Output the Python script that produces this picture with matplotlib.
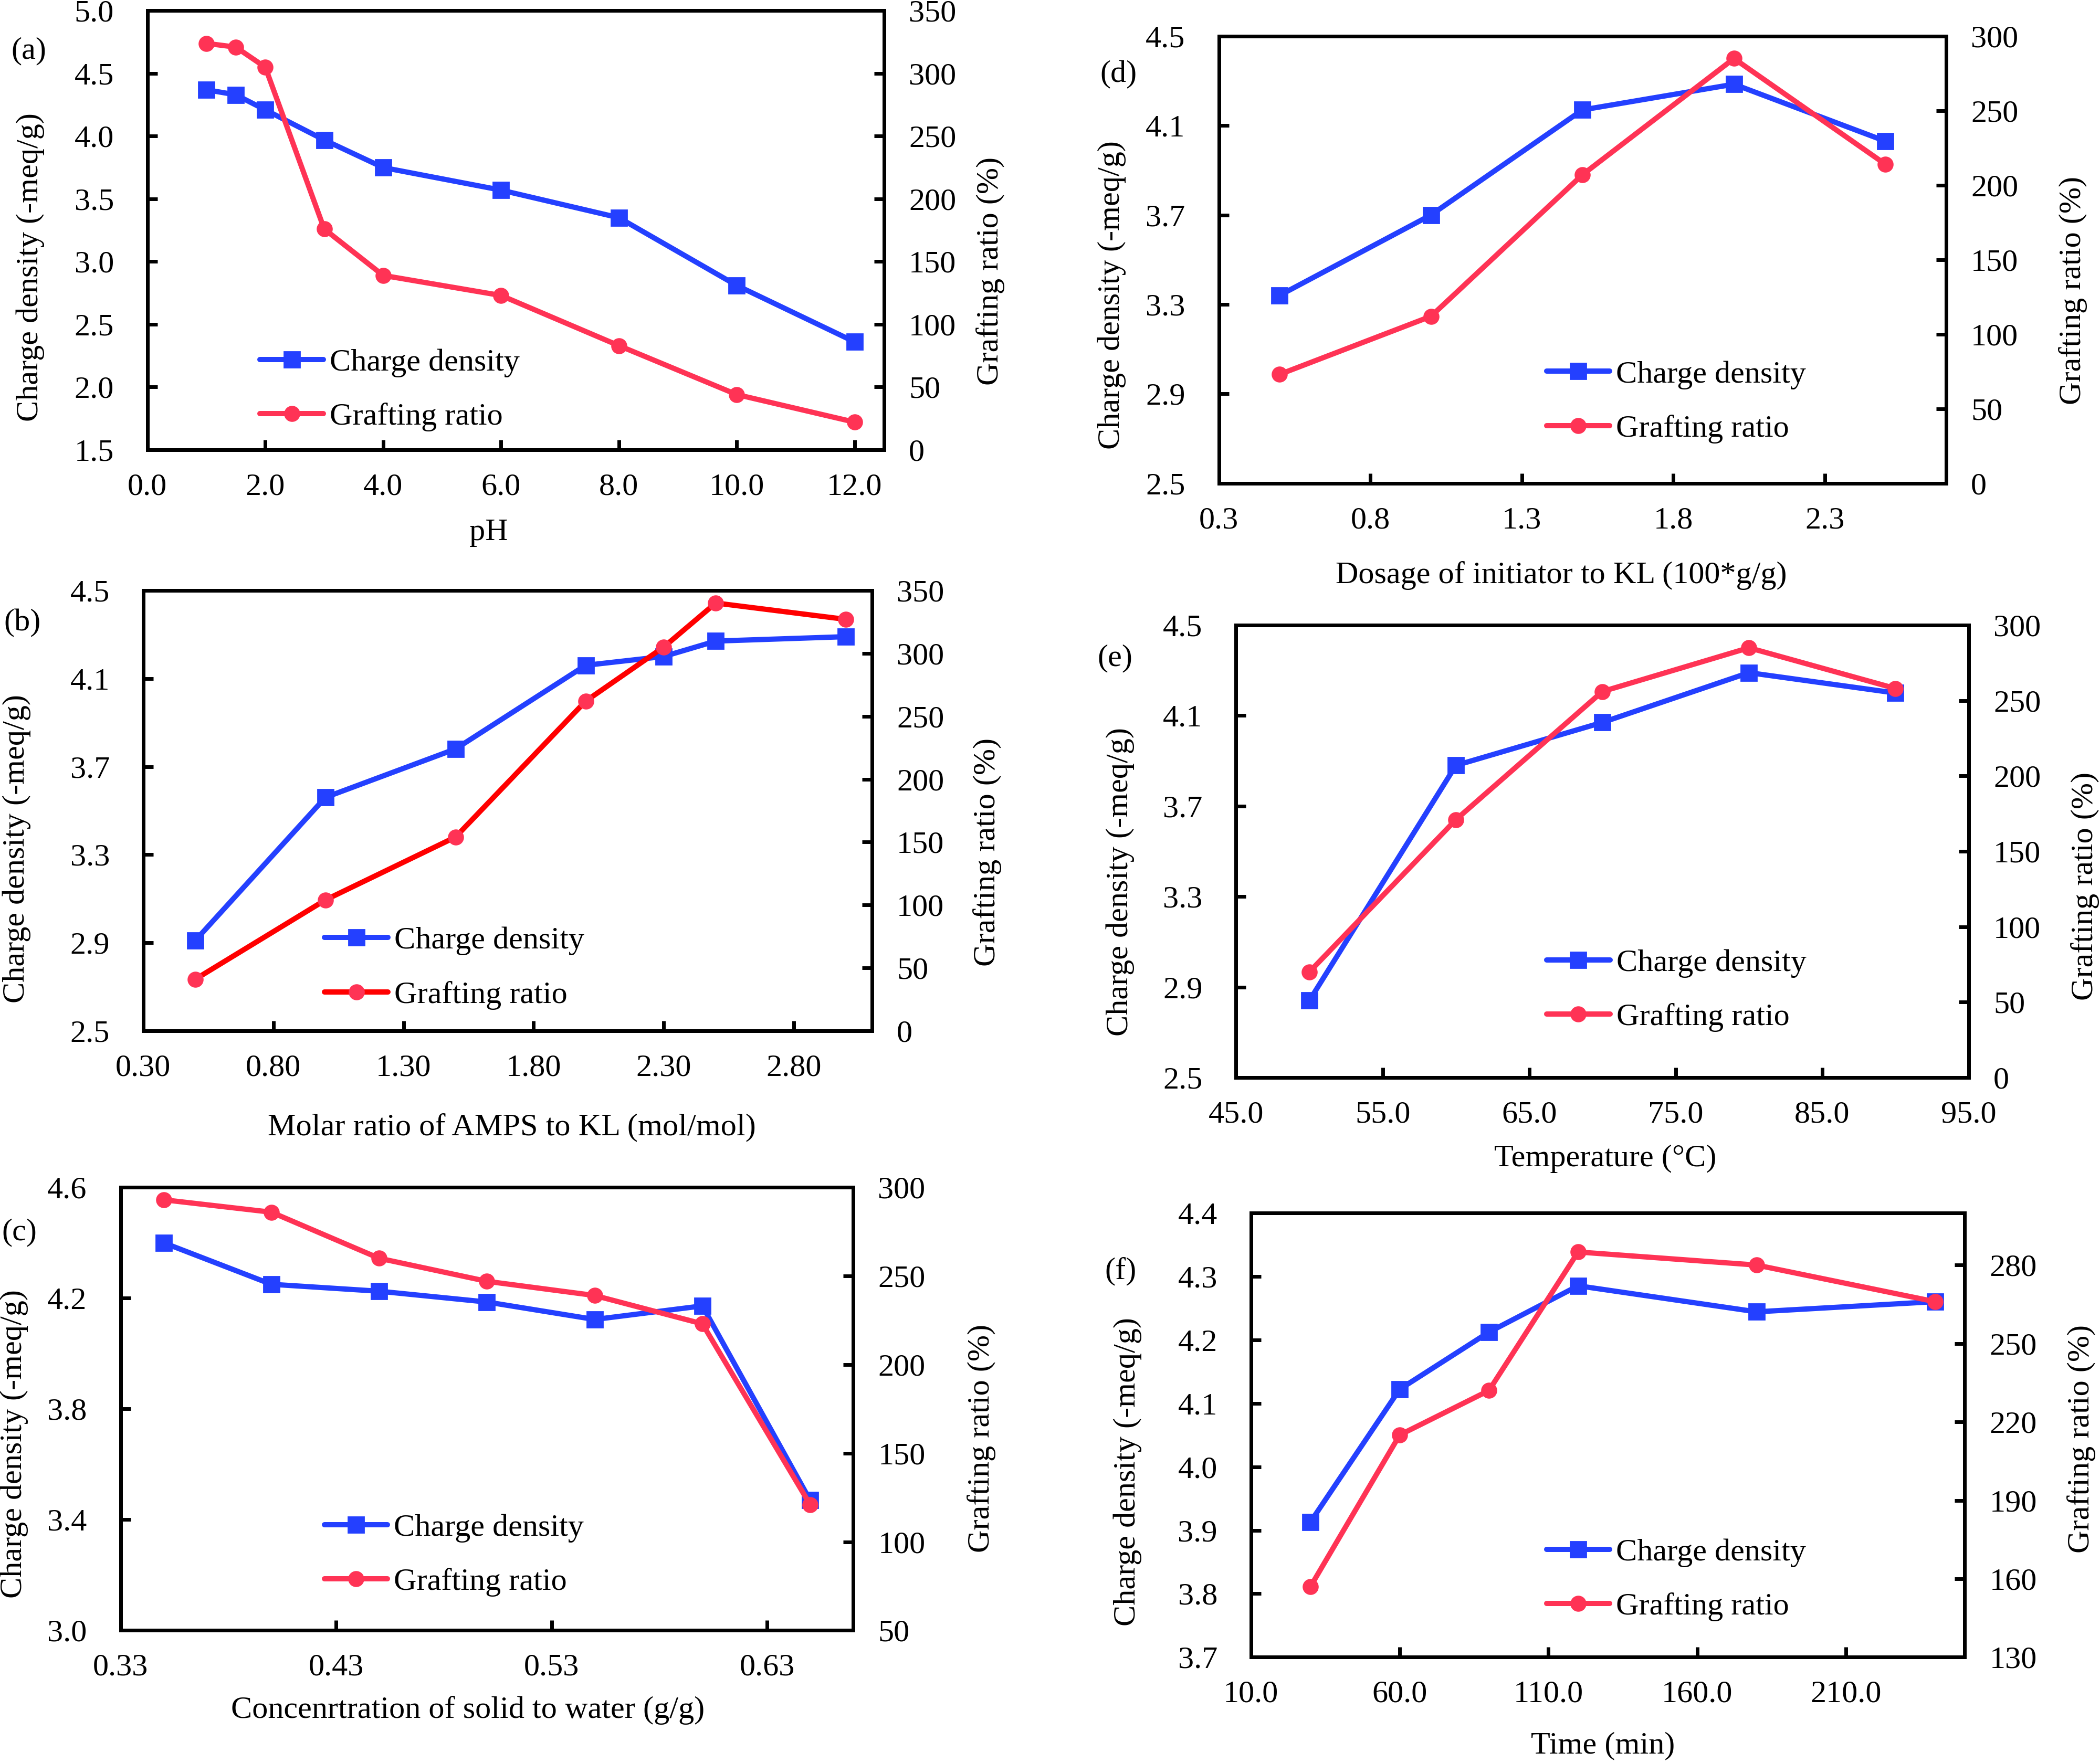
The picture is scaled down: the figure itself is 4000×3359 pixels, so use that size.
import matplotlib
matplotlib.use("Agg")
import matplotlib.pyplot as plt
from matplotlib.ticker import FormatStrFormatter

plt.rcParams['font.family'] = ['Liberation Serif', 'DejaVu Serif']

BLUE = '#2440ff'
RED = '#ff3355'
PURE_RED = '#ff0000'
FS = 21.7

# (a) effect of pH
ph = [1, 1.5, 2, 3, 4, 6, 8, 10, 12]
ph_charge = [4.37, 4.33, 4.21, 3.97, 3.75, 3.57, 3.35, 2.81, 2.36]
ph_graft = [324, 321, 305, 176, 139, 123, 83, 44, 22]
ph_xticks = [0, 2, 4, 6, 8, 10, 12]
ph_yticks = [1.5, 2.0, 2.5, 3.0, 3.5, 4.0, 4.5, 5.0]
ph_y2ticks = [0, 50, 100, 150, 200, 250, 300, 350]

# (b) molar ratio of AMPS to KL
molar = [0.5, 1.0, 1.5, 2.0, 2.3, 2.5, 3.0]
molar_charge = [2.91, 3.56, 3.78, 4.16, 4.20, 4.27, 4.29]
molar_graft = [41, 104, 154, 262, 305, 340, 327]
molar_xticks = [0.30, 0.80, 1.30, 1.80, 2.30, 2.80]
molar_yticks = [2.5, 2.9, 3.3, 3.7, 4.1, 4.5]
molar_y2ticks = [0, 50, 100, 150, 200, 250, 300, 350]

# (c) concentration of solid to water
conc = [0.35, 0.40, 0.45, 0.50, 0.55, 0.60, 0.65]
conc_charge = [4.40, 4.25, 4.225, 4.186, 4.123, 4.172, 3.47]
conc_graft = [293, 286, 260, 247, 239, 223, 121]
conc_xticks = [0.33, 0.43, 0.53, 0.63]
conc_yticks = [3.0, 3.4, 3.8, 4.2, 4.6]
conc_y2ticks = [50, 100, 150, 200, 250, 300]

# (d) dosage of initiator
dosage = [0.5, 1.0, 1.5, 2.0, 2.5]
dosage_charge = [3.34, 3.70, 4.17, 4.285, 4.03]
dosage_graft = [73, 112, 207, 285, 214]
dosage_xticks = [0.3, 0.8, 1.3, 1.8, 2.3]
dosage_yticks = [2.5, 2.9, 3.3, 3.7, 4.1, 4.5]
dosage_y2ticks = [0, 50, 100, 150, 200, 250, 300]

# (e) temperature
temp = [50, 60, 70, 80, 90]
temp_charge = [2.84, 3.88, 4.07, 4.29, 4.20]
temp_graft = [70, 171, 256, 285, 258]
temp_xticks = [45, 55, 65, 75, 85, 95]
temp_yticks = [2.5, 2.9, 3.3, 3.7, 4.1, 4.5]
temp_y2ticks = [0, 50, 100, 150, 200, 250, 300]

# (f) time
time_min = [30, 60, 90, 120, 180, 240]
time_charge = [3.913, 4.122, 4.212, 4.285, 4.244, 4.26]
time_graft = [157, 215, 232, 285, 280, 266]
time_xticks = [10, 60, 110, 160, 210]
time_yticks = [3.7, 3.8, 3.9, 4.0, 4.1, 4.2, 4.3, 4.4]
time_y2ticks = [130, 160, 190, 220, 250, 280]

fig = plt.figure(figsize=(20, 16.795), dpi=200)


def panel(rect, x, charge, graft, tag, xlabel, xlim, xticks, xfmt,
          ylim, yticks, y2lim, y2ticks, leg_xy, tag_xy, xlab_xy,
          ylab_xy, y2lab_xy, graft_line=RED):
    ax = fig.add_axes(rect)
    ax2 = ax.twinx()

    l1, = ax.plot(x, charge, color=BLUE, lw=3.6, marker='s', ms=11,
                  solid_capstyle='round', label='Charge density')
    l2, = ax2.plot(x, graft, color=graft_line, lw=3.6, marker='o', ms=10,
                   mfc=RED, mec=RED, solid_capstyle='round',
                   label='Grafting ratio')

    ax.set_xlim(xlim)
    ax.set_ylim(ylim)
    ax2.set_ylim(y2lim)
    ax.set_xticks(xticks)
    ax.set_yticks(yticks)
    ax2.set_yticks(y2ticks)
    ax.xaxis.set_major_formatter(FormatStrFormatter(xfmt))
    ax.yaxis.set_major_formatter(FormatStrFormatter('%.1f'))
    ax2.yaxis.set_major_formatter(FormatStrFormatter('%d'))

    for a in (ax, ax2):
        for s in a.spines.values():
            s.set_linewidth(2.5)
    ax.tick_params(direction='in', length=7, width=2.5, labelsize=FS)
    ax.tick_params(axis='y', pad=23)
    ax.tick_params(axis='x', pad=16)
    ax2.tick_params(direction='in', length=7, width=2.5, labelsize=FS, pad=17)

    ax2.legend(handles=[l1, l2], loc='center left', bbox_to_anchor=leg_xy,
               frameon=False, fontsize=FS, handlelength=2.0,
               handletextpad=0.2, borderpad=0, borderaxespad=0,
               labelspacing=0.8)

    ax.text(*tag_xy, tag, transform=ax.transAxes, ha='center', va='center',
            fontsize=FS)
    ax.text(*xlab_xy, xlabel, transform=ax.transAxes, ha='center',
            va='center', fontsize=FS)
    ax.text(*ylab_xy, 'Charge density (-meq/g)', transform=ax.transAxes,
            ha='center', va='center', rotation=90, fontsize=FS)
    ax.text(*y2lab_xy, 'Grafting ratio (%)', transform=ax.transAxes,
            ha='center', va='center', rotation=90, fontsize=FS)
    return ax, ax2


panel([0.0702, 0.7449, 0.3508, 0.2490], ph, ph_charge, ph_graft, '(a)', 'pH',
      (0, 12.5), ph_xticks, '%.1f', (1.5, 5.0), ph_yticks, (0, 350), ph_y2ticks,
      (0.153, 0.136), (-0.161, 0.908), (0.463, -0.189), (-0.159, 0.416),
      (1.144, 0.407))

panel([0.0682, 0.4153, 0.3470, 0.2498], molar, molar_charge, molar_graft, '(b)',
      'Molar ratio of AMPS to KL (mol/mol)',
      (0.3, 3.1), molar_xticks, '%.2f', (2.5, 4.5), molar_yticks, (0, 350),
      molar_y2ticks, (0.249, 0.1425), (-0.166, 0.926), (0.506, -0.219),
      (-0.174, 0.414), (1.158, 0.406), graft_line=PURE_RED)

panel([0.0574, 0.0752, 0.3489, 0.2513], conc, conc_charge, conc_graft, '(c)',
      'Concenrtration of solid to water (g/g)',
      (0.33, 0.67), conc_xticks, '%.2f', (3.0, 4.6), conc_yticks, (50, 300),
      conc_y2ticks, (0.278, 0.17), (-0.138, 0.8975), (0.474, -0.18),
      (-0.145, 0.421), (1.175, 0.434))

panel([0.5804, 0.7259, 0.3463, 0.2536], dosage, dosage_charge, dosage_graft,
      '(d)', 'Dosage of initiator to KL (100*g/g)',
      (0.3, 2.7), dosage_xticks, '%.1f', (2.5, 4.5), dosage_yticks, (0, 300),
      dosage_y2ticks, (0.4506, 0.182), (-0.138, 0.914), (0.471, -0.206),
      (-0.147, 0.421), (1.1745, 0.431))

panel([0.5886, 0.3888, 0.3489, 0.2566], temp, temp_charge, temp_graft, '(e)',
      'Temperature (°C)',
      (45, 95), temp_xticks, '%.1f', (2.5, 4.5), temp_yticks, (0, 300),
      temp_y2ticks, (0.424, 0.1926), (-0.165, 0.9265), (0.504, -0.1795),
      (-0.158, 0.433), (1.159, 0.4226))

panel([0.5957, 0.0600, 0.3399, 0.2521], time_min, time_charge, time_graft, '(f)',
      'Time (min)',
      (10, 250), time_xticks, '%.1f', (3.7, 4.4), time_yticks, (130, 300),
      time_y2ticks, (0.414, 0.174), (-0.1825, 0.869), (0.4927, -0.2),
      (-0.173, 0.417), (1.1635, 0.4917))

fig.savefig('out.png', dpi=200, facecolor='white')
